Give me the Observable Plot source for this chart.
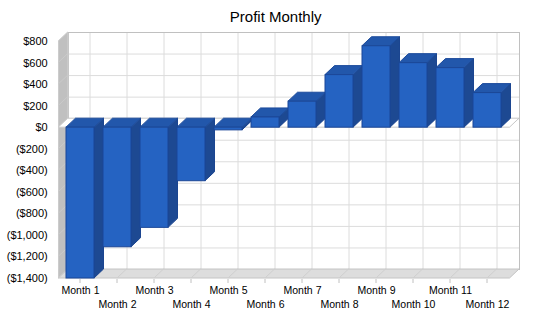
<!DOCTYPE html>
<html><head><meta charset="utf-8">
<script src="https://cdn.jsdelivr.net/npm/d3@7"></script>
<script src="https://cdn.jsdelivr.net/npm/@observablehq/plot@0.6"></script>
<style>body{margin:0;background:#fff;font-family:"Liberation Sans",Arial,sans-serif}</style>
</head><body><div id="chart"></div>
<script>
const title = "Profit Monthly";
const months = ["Month 1","Month 2","Month 3","Month 4","Month 5","Month 6","Month 7","Month 8","Month 9","Month 10","Month 11","Month 12"];
const profit = [-1400, -1110, -930, -497, -25, 95, 241, 488, 756, 599, 553, 321];
const yTicks = [-1400, -1200, -1000, -800, -600, -400, -200, 0, 200, 400, 600, 800];

const data = months.map((m, i) => ({month: m, profit: profit[i], i}));
const DX = 9.5, DY = -9;
const money = d3.format("$,");
const fmt = v => v < 0 ? `(${money(-v)})` : money(v);

function poly(g, pts, fill, stroke) {
  g.append("path").attr("d", "M" + pts.map(p => p.join(",")).join("L") + "Z")
    .attr("fill", fill).attr("stroke", stroke || "none").attr("stroke-width", 1);
}

// left wall, floor, floor ticks, zero plane
function walls(index, scales, values, dim) {
  const {x, y} = scales;
  const x0 = dim.marginLeft, x1 = dim.width - dim.marginRight;
  const yT = y(yTicks[yTicks.length - 1]), yB = y(yTicks[0]), y0 = y(0);
  const g = d3.create("svg:g");
  poly(g, [[x0, yT], [x0 + DX, yT + DY], [x0 + DX, yB + DY], [x0, yB]], "#c0c0c0");
  poly(g, [[x0, yB], [x0 + DX, yB + DY], [x1 + DX, yB + DY], [x1, yB]], "#dddddd", "#c4c4c4");
  const bw = x.bandwidth ? x.bandwidth() : 0;
  for (const m of months) {
    const cx = x(m) + bw / 2;
    g.append("line").attr("x1", cx).attr("y1", yB).attr("x2", cx + DX).attr("y2", yB + DY).attr("stroke", "#cfcfcf");
    g.append("line").attr("x1", cx).attr("y1", yB + 1).attr("x2", cx).attr("y2", yB + 5).attr("stroke", "#c0c0c0");
  }
  for (const t of yTicks) {
    const yy = y(t);
    g.append("line").attr("x1", x0).attr("y1", yy).attr("x2", x0 + DX).attr("y2", yy + DY).attr("stroke", "#cacaca");
  }
  poly(g, [[x0, y0], [x0 + DX, y0 + DY], [x1 + DX, y0 + DY], [x1, y0]], "#ffffff", "#c8c8c8");
  return g.node();
}

// bar sides and tops
function bars3d(index, scales, values, dim) {
  const {x, y} = scales;
  const bw = x.bandwidth();
  const g = d3.create("svg:g");
  months.forEach((m, i) => {
    const xl = x(m), xr = xl + bw;
    const v = profit[i];
    const yt = y(Math.max(v, 0)), yb = y(Math.min(v, 0));
    poly(g, [[xr, yt], [xr + DX, yt + DY], [xr + DX, yb + DY], [xr, yb]], "#1d4992", "#1b4590");
    poly(g, [[xl, yt], [xl + DX, yt + DY], [xr + DX, yt + DY], [xr, yt]], "#2257ab", "#1d4c9c");
  });
  return g.node();
}

const chart = Plot.plot({
  width: 550,
  height: 318,
  marginLeft: 58.2,
  marginRight: 40.5,
  marginTop: 41,
  marginBottom: 40,
  style: {fontFamily: '"Liberation Sans", Arial, sans-serif', background: "#fff"},
  x: {type: "band", domain: months, paddingInner: 0.25, paddingOuter: 0.125, axis: null},
  y: {domain: [yTicks[0], yTicks[yTicks.length - 1]], axis: null},
  marks: [
    Plot.frame({dx: DX, dy: DY, fill: "#fff", stroke: "#c0c0c0"}),
    Plot.ruleY(yTicks, {dx: DX, dy: DY, stroke: "#dcdcdc"}),
    Plot.ruleX(months, {dx: DX, dy: DY, stroke: "#dcdcdc"}),
    Plot.frame({dx: DX, dy: DY, stroke: "#c0c0c0"}),
    walls,
    bars3d,
    Plot.barY(data, {x: "month", y: "profit", fill: "#2563c2", stroke: "#1b4797", strokeWidth: 1}),
    Plot.text(yTicks, {y: d => d, text: fmt, frameAnchor: "left", textAnchor: "end", dx: -11, fontSize: 11, fill: "#000"}),
    Plot.text(data.filter(d => d.i % 2 === 0), {x: "month", text: "month", frameAnchor: "bottom", dy: 15.3, fontSize: 10.5, fill: "#000"}),
    Plot.text(data.filter(d => d.i % 2 === 1), {x: "month", text: "month", frameAnchor: "bottom", dy: 29, fontSize: 10.5, fill: "#000"}),
    Plot.text([title], {text: d => d, frameAnchor: "top", dx: -8.7, dy: -30.3, fontSize: 15, fill: "#000"})
  ]
});
document.getElementById("chart").appendChild(chart);
</script>
</body></html>
